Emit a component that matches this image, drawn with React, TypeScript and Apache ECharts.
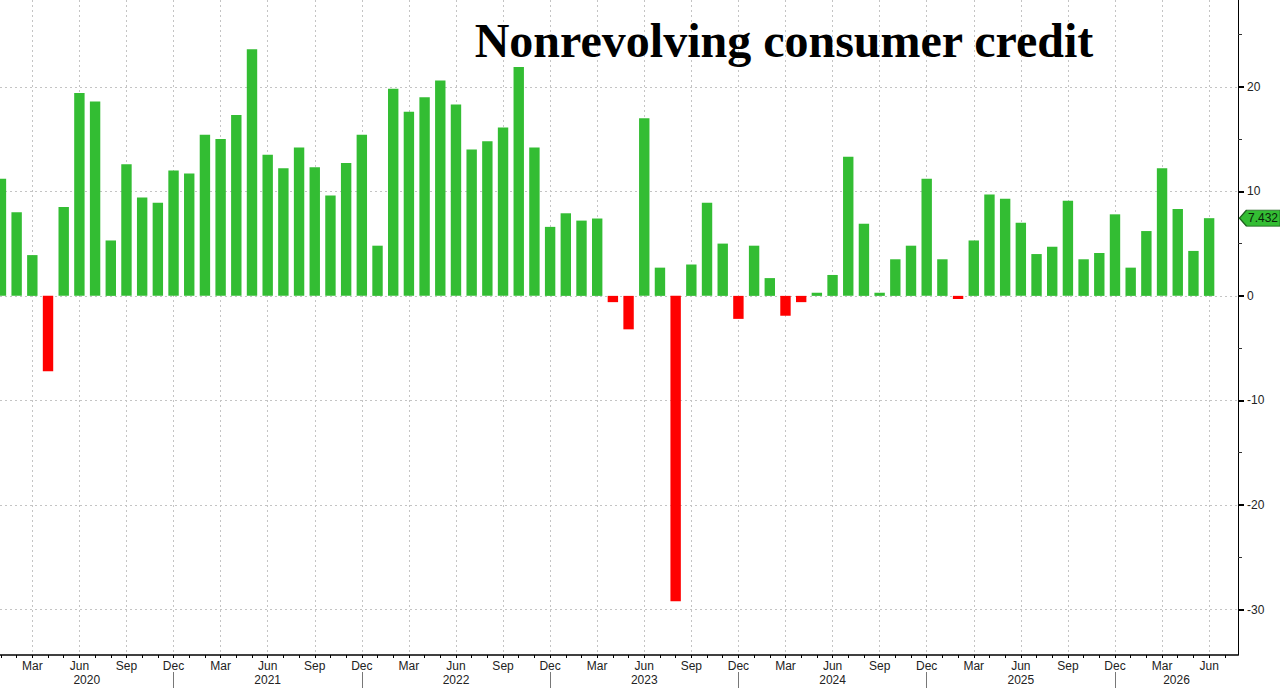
import { useEffect, useRef } from "react";
import * as echarts from "echarts";

const startYear = 2020;
const monthNames = ["Jan", "Feb", "Mar", "Apr", "May", "Jun", "Jul", "Aug", "Sep", "Oct", "Nov", "Dec"];

const v2020 = [11.2, 8.0, 3.9, -7.2, 8.5, 19.4, 18.6, 5.3, 12.6, 9.4, 8.9, 12.0];
const v2021 = [11.7, 15.4, 15.0, 17.3, 23.6, 13.5, 12.2, 14.2, 12.3, 9.6, 12.7, 15.4];
const v2022 = [4.8, 19.8, 17.6, 19.0, 20.6, 18.3, 14.0, 14.8, 16.1, 21.9, 14.2, 6.6];
const v2023 = [7.9, 7.2, 7.4, -0.6, -3.2, 17.0, 2.7, -29.2, 3.0, 8.9, 5.0, -2.2];
const v2024 = [4.8, 1.7, -1.9, -0.6, 0.3, 2.0, 13.3, 6.9, 0.3, 3.5, 4.8, 11.2];
const v2025 = [3.5, -0.3, 5.3, 9.7, 9.3, 7.0, 4.0, 4.7, 9.1, 3.5, 4.1, 7.8];
const v2026 = [2.7, 6.2, 12.2, 8.3, 4.3, 7.432];

const values = [...v2020, ...v2021, ...v2022, ...v2023, ...v2024, ...v2025, ...v2026];

const title = "Nonrevolving consumer credit";
const yLabelTicks = [-30, -20, -10, 0, 10, 20];
const yMinorTicks = [-25, -15, -5, 5, 15, 25];
const xMin = -0.06;
const xMax = 78.84;
const yMin = -34.35;
const yMax = 28.3;

const GREEN = "#33bd33";
const RED = "#ff0000";
const GRID = "#c4c4c4";
const FONT = "Liberation Sans";

const monthTicks = Array.from({ length: values.length + 1 }, (_, i) => i);
const quarterTicks = monthTicks.filter((i) => i % 3 === 2 && i < values.length);
const decTicks = monthTicks.filter((i) => i % 12 === 11);
const years = Array.from({ length: Math.ceil(values.length / 12) }, (_, k) => startYear + k);
const yearCenters = years.map((y, k) => {
  const lo = Math.max(xMin, 12 * k - 1);
  const hi = Math.min(xMax, 12 * k + 11);
  return (lo + hi) / 2;
});

export default function App() {
  const ref = useRef<HTMLDivElement>(null);
  useEffect(() => {
    if (!ref.current) return;
    const chart = echarts.init(ref.current, null, { renderer: "svg" });
    const last = values[values.length - 1];
    const hiddenAxis = {
      axisLine: { show: false, onZero: false },
      axisLabel: { show: false },
      axisTick: { show: false },
      splitLine: { show: false },
    };
    chart.setOption({
      animation: false,
      backgroundColor: "#ffffff",
      grid: { left: 0, right: 42, top: 0, bottom: 33, containLabel: false },
      graphic: [
        {
          type: "text",
          x: 784,
          y: 40,
          z: 100,
          style: {
            text: title,
            fontFamily: "Liberation Serif",
            fontWeight: "bold",
            fontSize: 48,
            fill: "#000",
            textAlign: "center",
            textVerticalAlign: "middle",
            shadowColor: "rgba(0,0,0,0.55)",
            shadowBlur: 5,
            shadowOffsetX: 3,
            shadowOffsetY: 3,
          },
        },
      ],
      xAxis: [
        {
          type: "value",
          min: xMin,
          max: xMax,
          position: "bottom",
          axisLine: { show: true, onZero: false, lineStyle: { color: "#000", width: 1.5 } },
          axisTick: { show: true, customValues: monthTicks, length: 3, lineStyle: { color: "#000" } },
          axisLabel: {
            show: true,
            customValues: quarterTicks,
            margin: 5,
            color: "#222",
            fontFamily: FONT,
            fontSize: 12,
            formatter: (v: number) => monthNames[((Math.round(v) % 12) + 12) % 12],
          },
          splitLine: { show: false },
        },
        {
          type: "value",
          min: xMin,
          max: xMax,
          position: "bottom",
          ...hiddenAxis,
          axisTick: { show: false, customValues: quarterTicks },
          splitLine: { show: true, lineStyle: { color: GRID, type: [2, 3], width: 1 } },
        },
        {
          type: "value",
          min: xMin,
          max: xMax,
          position: "bottom",
          ...hiddenAxis,
          axisLabel: {
            show: true,
            customValues: yearCenters,
            margin: 19,
            color: "#222",
            fontFamily: FONT,
            fontSize: 12,
            formatter: (v: number) => String(startYear + Math.floor((v + 1) / 12)),
          },
        },
        {
          type: "value",
          min: xMin,
          max: xMax,
          position: "bottom",
          offset: 17,
          ...hiddenAxis,
          axisTick: { show: true, customValues: decTicks, length: 16, lineStyle: { color: "#777" } },
        },
      ],
      yAxis: [
        {
          type: "value",
          min: yMin,
          max: yMax,
          position: "right",
          axisLine: { show: true, onZero: false, lineStyle: { color: "#000", width: 1 } },
          axisTick: { show: true, customValues: yLabelTicks, length: 6, lineStyle: { color: "#000", width: 2 } },
          axisLabel: {
            show: true,
            customValues: yLabelTicks,
            margin: 9,
            color: "#222",
            fontFamily: FONT,
            fontSize: 12,
            formatter: (v: number) => String(v),
          },
          splitLine: { show: true, lineStyle: { color: GRID, type: [2, 3], width: 1 } },
        },
        {
          type: "value",
          min: yMin,
          max: yMax,
          position: "right",
          ...hiddenAxis,
          axisTick: { show: true, customValues: yMinorTicks, length: 4, lineStyle: { color: "#333", width: 1 } },
        },
      ],
      series: [
        {
          type: "bar",
          xAxisIndex: 0,
          yAxisIndex: 0,
          barWidth: 10.4,
          z: 5,
          data: values.map((v, i) => ({ value: [i, v], itemStyle: { color: v >= 0 ? GREEN : RED } })),
          markPoint: {
            silent: true,
            symbol: "path://M0,8 L7,0 L41,0 L41,16 L7,16 Z",
            symbolSize: [41, 16],
            symbolKeepAspect: false,
            symbolOffset: [22, 0],
            itemStyle: { color: GREEN, borderColor: "#1d5f1d", borderWidth: 1 },
            label: {
              show: true,
              position: "inside",
              offset: [3, 0],
              color: "#0a240a",
              fontFamily: FONT,
              fontSize: 12,
              formatter: (p: any) => Number(p.value).toFixed(3),
            },
            data: [{ coord: [xMax, last], value: last }],
          },
        },
      ],
    });
    return () => chart.dispose();
  }, []);
  return (
    <div
      ref={ref}
      style={{ position: "fixed", left: 0, top: 0, width: 1280, height: 688, background: "#fff" }}
    />
  );
}
